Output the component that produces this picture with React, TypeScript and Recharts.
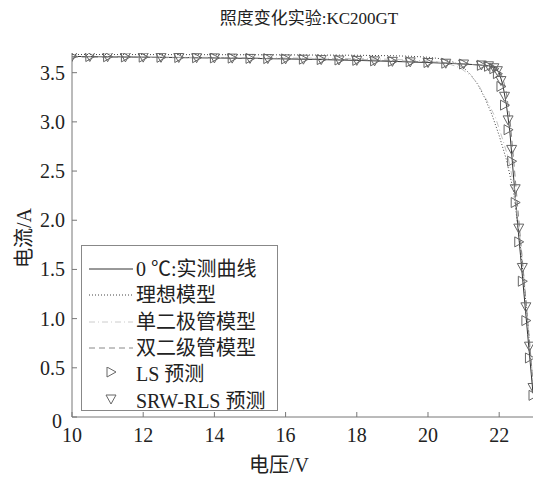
import { ComposedChart, Line, Scatter, XAxis, YAxis } from "recharts";

// measured I-V curve (0 ℃)
const measV = [10, 11, 12, 13, 14, 15, 16, 17, 18, 19, 20, 20.5, 21, 21.4, 21.7, 21.9, 22.0, 22.1, 22.2, 22.3, 22.4, 22.5, 22.6, 22.7, 22.8, 22.9, 22.95];
const measI = [3.665, 3.662, 3.658, 3.654, 3.65, 3.645, 3.64, 3.633, 3.625, 3.615, 3.603, 3.596, 3.588, 3.58, 3.57, 3.55, 3.5, 3.38, 3.18, 2.9, 2.46, 2.04, 1.64, 1.24, 0.84, 0.44, 0.24];

// ideal model
const idealV = [10, 12, 14, 16, 18, 19, 19.5, 20, 20.4, 20.7, 21.0, 21.2, 21.4, 21.6, 21.8, 22.0, 22.2, 22.4, 22.6, 22.8, 22.95];
const idealI = [3.685, 3.684, 3.683, 3.681, 3.677, 3.672, 3.667, 3.657, 3.64, 3.61, 3.55, 3.48, 3.38, 3.24, 3.07, 2.86, 2.62, 2.3, 1.72, 0.98, 0.3];

// single diode model
const singleV = [10, 12, 14, 16, 18, 19, 20, 20.5, 20.9, 21.2, 21.4, 21.65, 21.9, 22.1, 22.25, 22.4, 22.6, 22.8, 22.95];
const singleI = [3.66, 3.658, 3.655, 3.65, 3.643, 3.636, 3.62, 3.6, 3.55, 3.47, 3.39, 3.22, 3.04, 2.82, 2.64, 2.38, 1.78, 1.0, 0.35];

// double diode model
const doubleV = [10, 12, 14, 16, 18, 20, 21, 21.5, 21.8, 22.0, 22.1, 22.2, 22.3, 22.4, 22.5, 22.6, 22.7, 22.8, 22.9, 22.95];
const doubleI = [3.66, 3.655, 3.65, 3.642, 3.632, 3.61, 3.59, 3.575, 3.555, 3.52, 3.45, 3.3, 3.04, 2.64, 2.22, 1.8, 1.4, 0.98, 0.56, 0.34];

// prediction markers
const markV = [10, 10.5, 11, 11.5, 12, 12.5, 13, 13.5, 14, 14.5, 15, 15.5, 16, 16.5, 17, 17.5, 18, 18.5, 19, 19.5, 20, 20.5, 21, 21.5, 21.7, 21.85, 21.95, 22.05, 22.15, 22.25, 22.35, 22.45, 22.55, 22.65, 22.75, 22.85, 22.95];
const lsI = [3.665, 3.664, 3.662, 3.66, 3.658, 3.656, 3.654, 3.652, 3.65, 3.648, 3.645, 3.643, 3.64, 3.637, 3.633, 3.629, 3.625, 3.62, 3.615, 3.61, 3.603, 3.596, 3.588, 3.575, 3.565, 3.54, 3.49, 3.36, 3.17, 2.92, 2.6, 2.18, 1.78, 1.38, 0.98, 0.6, 0.22];
const srwI = [3.665, 3.664, 3.662, 3.66, 3.658, 3.656, 3.654, 3.652, 3.65, 3.648, 3.645, 3.643, 3.64, 3.637, 3.633, 3.629, 3.625, 3.62, 3.615, 3.61, 3.603, 3.596, 3.588, 3.578, 3.57, 3.55, 3.52, 3.42, 3.26, 3.02, 2.72, 2.32, 1.92, 1.52, 1.12, 0.72, 0.3];

const xTicks = [10, 12, 14, 16, 18, 20, 22];
const yTicks = [0, 0.5, 1, 1.5, 2, 2.5, 3, 3.5];

const toPts = (v: number[], i: number[]) => v.map((x, k) => ({ v: x, i: i[k] }));

const FONT = "'Liberation Serif', 'Noto Sans CJK SC', serif";
const AXIS = "#777";

function RightTri({ cx, cy }: any) {
  return <polygon points={`${cx - 4},${cy - 5} ${cx - 4},${cy + 5} ${cx + 5},${cy}`} fill="none" stroke="#666" strokeWidth={1} />;
}
function DownTri({ cx, cy }: any) {
  return <polygon points={`${cx - 5},${cy - 4} ${cx + 5},${cy - 4} ${cx},${cy + 5}`} fill="none" stroke="#666" strokeWidth={1} />;
}

// y tick: MATLAB-style "0" sits a little below the axis corner
function YTick({ x, y, payload }: any) {
  const v = payload.value as number;
  return (
    <text x={x} y={y} dx={v === 0 ? -3 : 0} dy={v === 0 ? 11 : 7} textAnchor="end" fill="#222" fontSize={20} fontFamily={FONT}>
      {v === 0 ? "0" : v.toFixed(1)}
    </text>
  );
}

const legendRows = [
  { label: "0 ℃:实测曲线", color: "#333", dash: undefined as string | undefined, mark: "" },
  { label: "理想模型", color: "#444", dash: "1 2", mark: "" },
  { label: "单二极管模型", color: "#ccc", dash: "6 3 1 3", mark: "" },
  { label: "双二级管模型", color: "#888", dash: "6 4", mark: "" },
  { label: "LS 预测", color: "#666", dash: undefined, mark: "right" },
  { label: "SRW-RLS 预测", color: "#666", dash: undefined, mark: "down" },
];

function LegendBox() {
  return (
    <div style={{ position: "absolute", left: 81, top: 245, width: 197, height: 166, border: "1px solid #888", background: "#fff", boxSizing: "border-box", paddingTop: 10, fontFamily: FONT, fontSize: 20, color: "#222" }}>
      {legendRows.map((r) => (
        <div key={r.label} style={{ height: 26.3, display: "flex", alignItems: "center", whiteSpace: "nowrap" }}>
          <svg width={53} height={14} style={{ flex: "none" }}>
            {r.mark === "" && <line x1={7} x2={51} y1={7} y2={7} stroke={r.color} strokeWidth={1} strokeDasharray={r.dash} />}
            {r.mark === "right" && <RightTri cx={29} cy={5} />}
            {r.mark === "down" && <DownTri cx={29} cy={5} />}
          </svg>
          <span style={{ marginLeft: 1, lineHeight: "20px" }}>{r.label}</span>
        </div>
      ))}
    </div>
  );
}

export default function App() {
  return (
    <div style={{ position: "absolute", left: 0, top: 0, width: 539, height: 478, background: "#fff", fontFamily: FONT }}>
      <ComposedChart width={539} height={478} margin={{ top: 53, right: 6, bottom: 0, left: 0 }}>
        <XAxis
          xAxisId={0}
          dataKey="v"
          type="number"
          domain={[10, 22.95]}
          allowDataOverflow
          ticks={xTicks}
          height={61}
          tickSize={-5}
          tickMargin={16}
          stroke={AXIS}
          tick={{ fill: "#222", fontSize: 20, fontFamily: FONT }}
        />
        <XAxis xAxisId="top" orientation="top" dataKey="v" type="number" domain={[10, 22.95]} allowDataOverflow ticks={xTicks} height={0} tickSize={-5} tick={false} stroke={AXIS} />
        <YAxis
          yAxisId={0}
          dataKey="i"
          type="number"
          domain={[0, 3.7]}
          allowDataOverflow
          ticks={yTicks}
          interval={0}
          width={72}
          tickSize={-5}
          tickMargin={12}
          stroke={AXIS}
          tick={<YTick />}
        />
        <YAxis yAxisId="right" orientation="right" dataKey="i" type="number" domain={[0, 3.7]} allowDataOverflow ticks={yTicks} interval={0} width={0} tickSize={-5} tick={false} stroke={AXIS} />
        <Line data={toPts(measV, measI)} dataKey="i" stroke="#333" strokeWidth={1} dot={false} isAnimationActive={false} />
        <Line data={toPts(idealV, idealI)} dataKey="i" stroke="#444" strokeWidth={1} strokeDasharray="1 2" dot={false} isAnimationActive={false} />
        <Line data={toPts(singleV, singleI)} dataKey="i" stroke="#c4c4c4" strokeWidth={1} strokeDasharray="6 3 1 3" dot={false} isAnimationActive={false} />
        <Line data={toPts(doubleV, doubleI)} dataKey="i" stroke="#888" strokeWidth={1} strokeDasharray="6 4" dot={false} isAnimationActive={false} />
        <Scatter data={toPts(markV, lsI)} dataKey="i" shape={(p: any) => <RightTri cx={p.cx} cy={p.cy} />} isAnimationActive={false} />
        <Scatter data={toPts(markV, srwI)} dataKey="i" shape={(p: any) => <DownTri cx={p.cx} cy={p.cy} />} isAnimationActive={false} />
      </ComposedChart>
      <LegendBox />
      <div style={{ position: "absolute", left: 0, width: 618, top: 4, textAlign: "center", fontSize: 17, color: "#222" }}>照度变化实验:KC200GT</div>
      <div style={{ position: "absolute", left: 0, width: 558, top: 452, textAlign: "center", fontSize: 20, lineHeight: "26px", color: "#222" }}>电压/V</div>
      <div style={{ position: "absolute", left: 22, top: 238, transform: "translate(-50%, -50%) rotate(-90deg)", fontSize: 20, color: "#222", whiteSpace: "nowrap" }}>电流/A</div>
    </div>
  );
}
